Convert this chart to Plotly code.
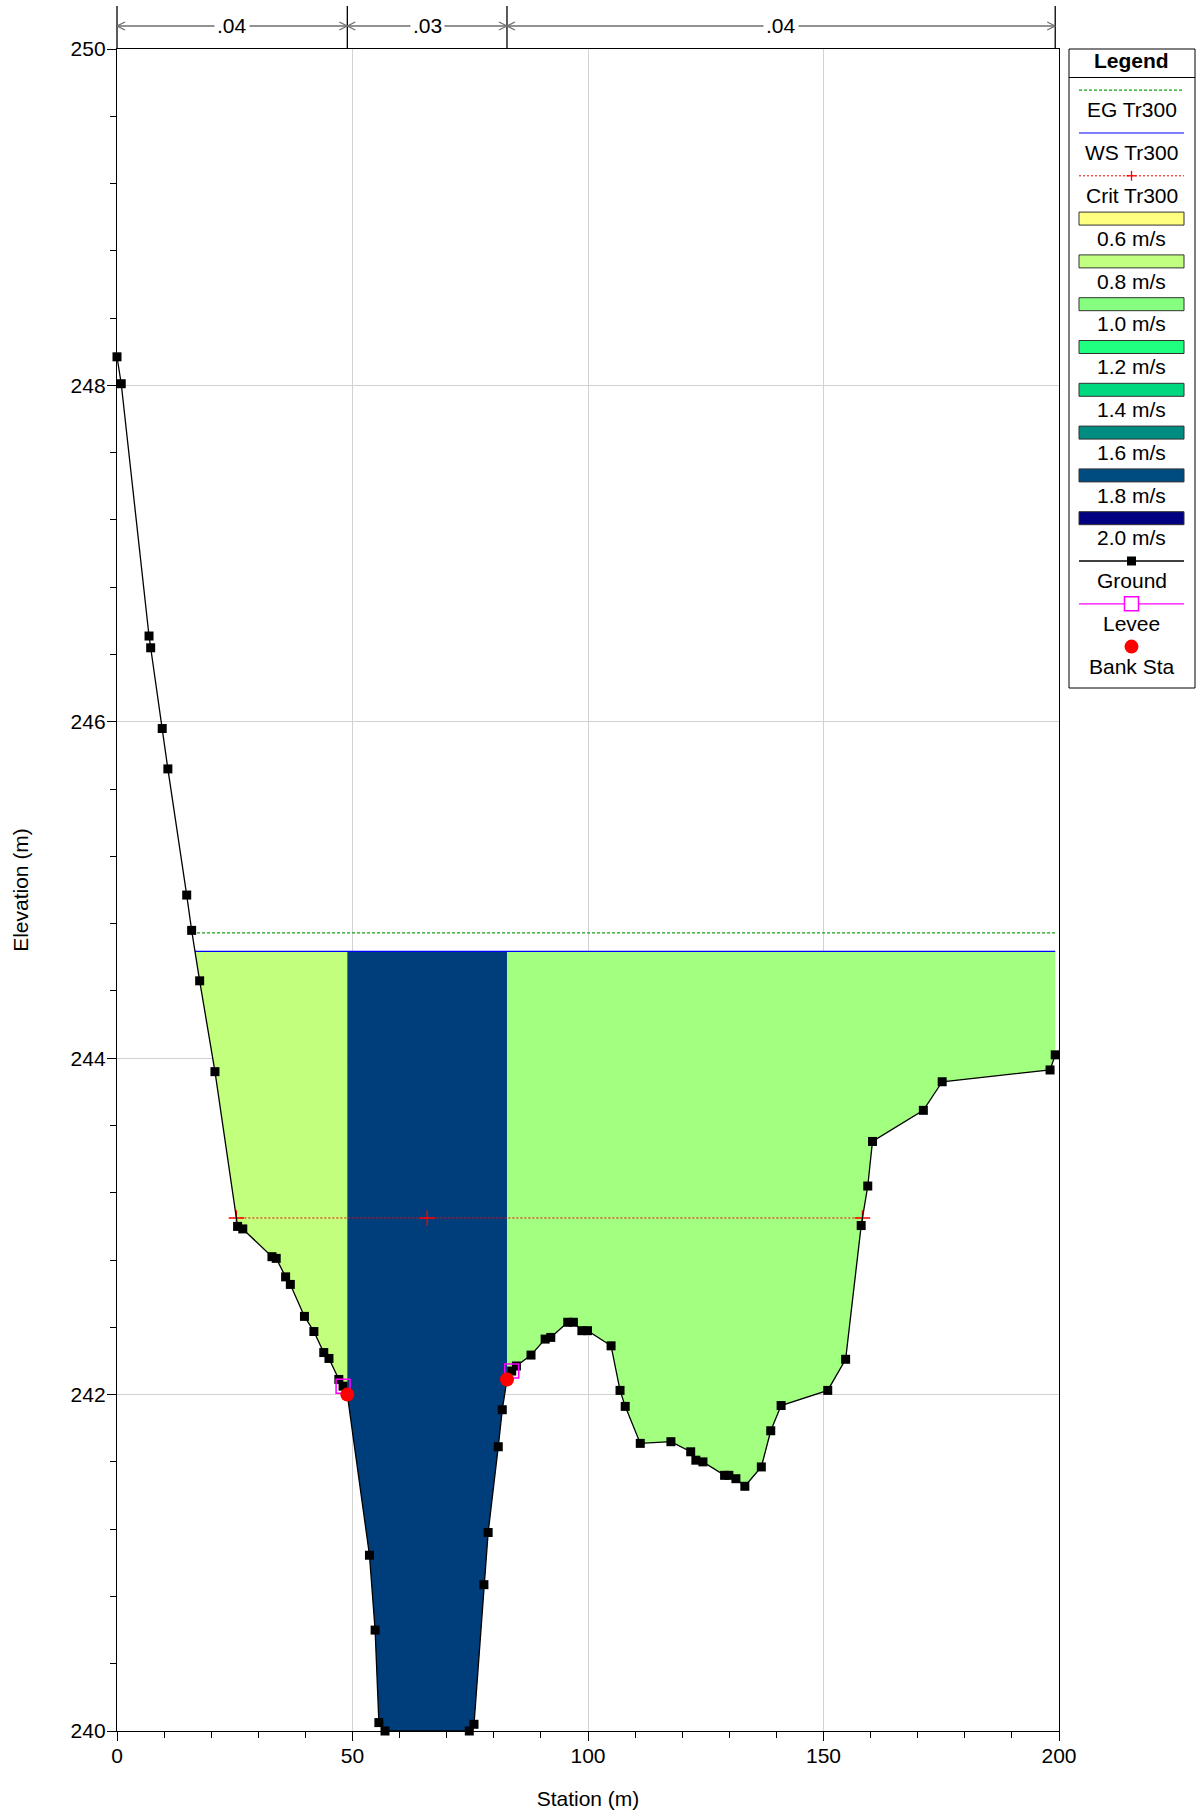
import numpy as np
import plotly.graph_objects as go

# ---- cross-section geometry: station (m) and ground elevation (m) ----
station = [0.0, 0.9, 6.8, 7.15, 9.6, 10.8, 14.8, 15.85, 17.55, 20.8,
           25.6, 26.7, 32.9, 33.8, 35.8, 36.8, 39.8, 41.8, 43.9, 45.0,
           47.1, 48.0, 48.9, 53.6, 54.8, 55.6, 56.9, 74.8, 75.8, 77.9,
           78.8, 80.95, 81.8, 82.8, 83.8, 84.8, 87.9, 90.9, 92.1, 95.7,
           96.9, 98.7, 99.9, 104.9, 106.8, 107.9, 111.1, 117.6, 121.8, 122.9,
           124.4, 129.0, 129.9, 131.4, 133.3, 136.8, 138.8, 141.0, 150.9, 154.7,
           158.0, 159.4, 160.4, 171.2, 175.2, 198.1, 199.2]
elevation = [248.17, 248.01, 246.51, 246.44, 245.96, 245.72, 244.97, 244.76, 244.46, 243.92,
             243.00, 242.985, 242.82, 242.81, 242.70, 242.655, 242.465, 242.375, 242.25, 242.215,
             242.09, 242.05, 242.00, 241.045, 240.60, 240.05, 240.00, 240.00, 240.04, 240.87,
             241.18, 241.69, 241.91, 242.09, 242.14, 242.17, 242.235, 242.33, 242.34, 242.43,
             242.43, 242.38, 242.38, 242.29, 242.025, 241.93, 241.71, 241.72, 241.66, 241.61,
             241.60, 241.52, 241.52, 241.50, 241.455, 241.57, 241.785, 241.935, 242.025, 242.21,
             243.005, 243.24, 243.505, 243.69, 243.86, 243.93, 244.02]

bank_sta = [48.9, 82.8]
bank_elev = [242.00, 242.09]
levee_sta = [48.0, 83.8]
levee_elev = [242.05, 242.14]

# profile Tr300 results
eg_elev = 244.745
ws_elev = 244.635
crit_elev = 243.05

# Manning's n per subsection
n_labels = [".04", ".03", ".04"]

# velocity legend classes
speed_labels = ["0.6 m/s", "0.8 m/s", "1.0 m/s", "1.2 m/s",
                "1.4 m/s", "1.6 m/s", "1.8 m/s", "2.0 m/s"]
speed_colors = ["#FFFF80", "#C0FF80", "#86FF80", "#20FF80",
                "#00D880", "#008C80", "#004C80", "#000080"]

# subsection fill colours (left overbank, channel, right overbank)
fill_colors = ["#C2FF7C", "#003D7B", "#A2FF80"]

# ---- page / plot-area geometry in pixels ----
W, H = 1204, 1814
ML, MR, MT, MB = 117, 145, 49, 83
PW, PH = W - ML - MR, H - MT - MB
FONT = "Liberation Sans, Arial, sans-serif"
FS = 21


def pxx(x):
    return (x - ML) / PW


def pxy(y):
    return (H - MB - y) / PH


sta = np.array(station)
elv = np.array(elevation)


def ground(x):
    return float(np.interp(x, sta, elv))


def crossing_left(level):
    for i in range(len(sta) - 1):
        if elv[i] >= level > elv[i + 1]:
            t = (elv[i] - level) / (elv[i] - elv[i + 1])
            return sta[i] + t * (sta[i + 1] - sta[i])
    return sta[0]


def crossing_right(level):
    for i in range(len(sta) - 1, 0, -1):
        if elv[i] >= level > elv[i - 1]:
            t = (elv[i] - level) / (elv[i] - elv[i - 1])
            return sta[i] - t * (sta[i] - sta[i - 1])
    return sta[-1]


def wet_polygon(a, b, level):
    xs = [a] + [s for s in station if a < s < b] + [b]
    ys = [ground(x) for x in xs]
    xs += [b, a, a]
    ys += [level, level, ys[0]]
    return xs, ys


ws_left = crossing_left(ws_elev)
eg_left = crossing_left(eg_elev)
crit_left = crossing_left(crit_elev)
crit_right = crossing_right(crit_elev)
end_sta = station[-1]

fig = go.Figure()

# flow area coloured by subsection velocity
bounds = [(ws_left, bank_sta[0]), (bank_sta[0], bank_sta[1]), (bank_sta[1], end_sta)]
for (a, b), col in zip(bounds, fill_colors):
    xs, ys = wet_polygon(a, b, ws_elev)
    fig.add_trace(go.Scatter(x=xs, y=ys, mode="lines", fill="toself",
                             fillcolor=col, line=dict(width=0, color=col),
                             hoverinfo="skip", showlegend=False))

# energy grade and water surface
fig.add_trace(go.Scatter(x=[eg_left, end_sta], y=[eg_elev, eg_elev], mode="lines",
                         line=dict(color="#169E16", width=1.2, dash="3px,2px"),
                         showlegend=False))
fig.add_trace(go.Scatter(x=[ws_left, end_sta], y=[ws_elev, ws_elev], mode="lines",
                         line=dict(color="#0000FF", width=1.2), showlegend=False))

# critical depth
fig.add_trace(go.Scatter(x=[crit_left, crit_right], y=[crit_elev, crit_elev], mode="lines",
                         line=dict(color="#FF0000", width=1, dash="2px,2px"),
                         showlegend=False))
fig.add_trace(go.Scatter(x=[crit_left, (bank_sta[0] + bank_sta[1]) / 2, crit_right],
                         y=[crit_elev] * 3, mode="markers",
                         marker=dict(symbol="cross-thin", size=11,
                                     line=dict(color="#FF0000", width=1.3)),
                         showlegend=False))

# ground profile
fig.add_trace(go.Scatter(x=station, y=elevation, mode="lines+markers",
                         line=dict(color="black", width=1.3),
                         marker=dict(symbol="square", size=9, color="black"),
                         cliponaxis=False, showlegend=False))

# levees and bank stations
fig.add_trace(go.Scatter(x=levee_sta, y=levee_elev, mode="markers",
                         marker=dict(symbol="square-open", size=14, color="#FF00FF",
                                     line=dict(width=1.5, color="#FF00FF")),
                         showlegend=False))
fig.add_trace(go.Scatter(x=bank_sta, y=bank_elev, mode="markers",
                         marker=dict(symbol="circle", size=14, color="#FF0000"),
                         showlegend=False))

shapes = []
annotations = []

# ---- Manning's n dimension lines above the plot ----
dim_y = pxy(26)
div_sta = [0.0, bank_sta[0], bank_sta[1], end_sta]
for s in div_sta[1:]:
    shapes.append(dict(type="line", xref="x", yref="paper", x0=s, x1=s,
                       y0=pxy(49), y1=pxy(6), line=dict(color="black", width=1.3)))
shapes.append(dict(type="line", xref="paper", yref="paper", x0=0, x1=0,
                   y0=1, y1=pxy(6), line=dict(color="black", width=1.3)))
head_dx = 8 / PW * 200
head_dy = 4 / PH
for (a, b), lab in zip(zip(div_sta[:-1], div_sta[1:]), n_labels):
    shapes.append(dict(type="line", xref="x", yref="paper", x0=a, x1=b,
                       y0=dim_y, y1=dim_y, line=dict(color="#6E6E6E", width=1.5)))
    for tip, d in ((a, 1), (b, -1)):
        for sgn in (1, -1):
            shapes.append(dict(type="line", xref="x", yref="paper",
                               x0=tip, x1=tip + d * head_dx,
                               y0=dim_y, y1=dim_y + sgn * head_dy,
                               line=dict(color="#6E6E6E", width=1.3)))
    annotations.append(dict(x=(a + b) / 2, y=dim_y, xref="x", yref="paper",
                            text=lab, showarrow=False, bgcolor="white",
                            borderpad=2, xanchor="center", yanchor="middle",
                            font=dict(family=FONT, size=FS, color="black")))

# ---- legend panel ----
LX0, LX1, LY0, LY1 = 1069, 1195, 49, 688
SX0, SX1 = 1079, 1184
CX = (SX0 + SX1) / 2
shapes.append(dict(type="rect", xref="paper", yref="paper", x0=pxx(LX0), x1=pxx(LX1),
                   y0=pxy(LY1), y1=pxy(LY0), line=dict(color="black", width=1),
                   fillcolor="white", layer="below"))
shapes.append(dict(type="line", xref="paper", yref="paper", x0=pxx(LX0), x1=pxx(LX1),
                   y0=pxy(77.5), y1=pxy(77.5), line=dict(color="black", width=1)))
annotations.append(dict(x=pxx(CX), y=pxy(60), xref="paper", yref="paper",
                        text="<b>Legend</b>", showarrow=False, xanchor="center",
                        yanchor="middle", font=dict(family=FONT, size=FS, color="black")))

legend_names = ["EG Tr300", "WS Tr300", "Crit Tr300"] + speed_labels + ["Ground", "Levee", "Bank Sta"]
row0, step = 90.2, 42.8
for k, name in enumerate(legend_names):
    ys = row0 + k * step
    annotations.append(dict(x=pxx(CX), y=pxy(ys + 19.7), xref="paper", yref="paper",
                            text=name, showarrow=False, xanchor="center", yanchor="middle",
                            font=dict(family=FONT, size=FS, color="black")))


def hline(y, color, width, dash=None):
    ln = dict(color=color, width=width)
    if dash:
        ln["dash"] = dash
    shapes.append(dict(type="line", xref="paper", yref="paper", x0=pxx(SX0), x1=pxx(SX1),
                       y0=pxy(y), y1=pxy(y), line=ln))


def box(cx, cy, half, fill, line_color, lw):
    shapes.append(dict(type="rect", xref="paper", yref="paper",
                       x0=pxx(cx - half), x1=pxx(cx + half),
                       y0=pxy(cy + half), y1=pxy(cy - half),
                       fillcolor=fill, line=dict(color=line_color, width=lw)))


hline(row0, "#169E16", 1.2, "3px,2px")
hline(row0 + step, "#0000FF", 1.2)
y_crit = row0 + 2 * step
hline(y_crit, "#FF0000", 1, "2px,2px")
shapes.append(dict(type="line", xref="paper", yref="paper", x0=pxx(CX - 5), x1=pxx(CX + 5),
                   y0=pxy(y_crit), y1=pxy(y_crit), line=dict(color="#FF0000", width=1.3)))
shapes.append(dict(type="line", xref="paper", yref="paper", x0=pxx(CX), x1=pxx(CX),
                   y0=pxy(y_crit - 5), y1=pxy(y_crit + 5), line=dict(color="#FF0000", width=1.3)))
for k, col in enumerate(speed_colors):
    yc = row0 + (3 + k) * step
    shapes.append(dict(type="rect", xref="paper", yref="paper", x0=pxx(SX0), x1=pxx(SX1),
                       y0=pxy(yc + 6.5), y1=pxy(yc - 6.5), fillcolor=col,
                       line=dict(color="#333333", width=1)))
y_gr = row0 + 11 * step
hline(y_gr, "black", 1.3)
box(CX, y_gr, 4.5, "black", "black", 0)
y_lv = row0 + 12 * step
hline(y_lv, "#FF00FF", 1.3)
box(CX, y_lv, 7, "white", "#FF00FF", 1.5)
y_bk = row0 + 13 * step
shapes.append(dict(type="circle", xref="paper", yref="paper", x0=pxx(CX - 7), x1=pxx(CX + 7),
                   y0=pxy(y_bk + 7), y1=pxy(y_bk - 7), fillcolor="#FF0000",
                   line=dict(color="#FF0000", width=0)))

fig.update_layout(
    width=W, height=H,
    margin=dict(l=ML, r=MR, t=MT, b=MB, pad=0, autoexpand=False),
    paper_bgcolor="white", plot_bgcolor="white",
    font=dict(family=FONT, size=FS, color="black"),
    shapes=shapes, annotations=annotations, showlegend=False,
)
fig.update_xaxes(range=[0, 200], tickvals=[0, 50, 100, 150, 200], automargin=False,
                 ticks="outside", ticklen=9, tickwidth=1, tickcolor="black",
                 ticklabelstandoff=-3,
                 showgrid=True, gridcolor="#D2D2D2", gridwidth=1, zeroline=False,
                 showline=True, linecolor="black", linewidth=1.3, mirror=True,
                 minor=dict(dtick=10, ticks="outside", ticklen=6, tickcolor="black", showgrid=False),
                 title=dict(text="Station (m)", standoff=24,
                            font=dict(family=FONT, size=FS)),
                 tickfont=dict(family=FONT, size=FS))
fig.update_yaxes(range=[240, 250], tickvals=[240, 242, 244, 246, 248, 250], automargin=False,
                 ticks="outside", ticklen=9, tickwidth=1, tickcolor="black",
                 ticklabelstandoff=-3,
                 showgrid=True, gridcolor="#D2D2D2", gridwidth=1, zeroline=False,
                 showline=True, linecolor="black", linewidth=1.3, mirror=True,
                 minor=dict(dtick=0.4, ticks="outside", ticklen=6, tickcolor="black", showgrid=False),
                 title=dict(text="Elevation (m)", standoff=36,
                            font=dict(family=FONT, size=FS)),
                 tickfont=dict(family=FONT, size=FS))

fig.write_html("out.html")
